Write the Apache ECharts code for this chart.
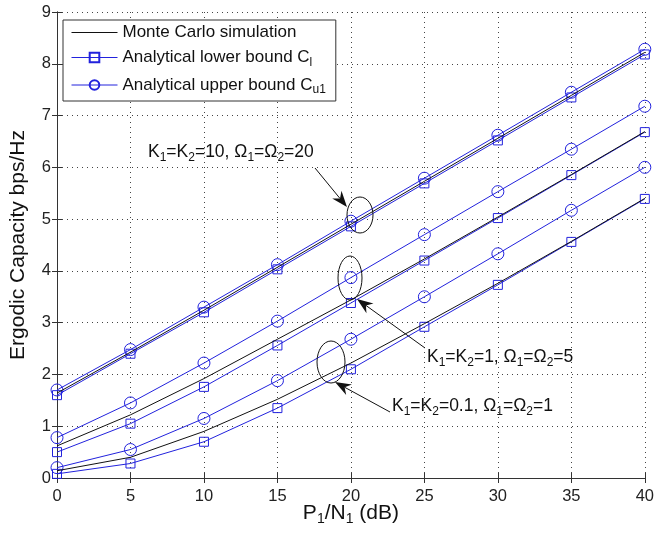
<!DOCTYPE html>
<html>
<head>
<meta charset="utf-8">
<script src="https://cdn.jsdelivr.net/npm/echarts@6/dist/echarts.min.js"></script>
<style>
  html, body { margin: 0; padding: 0; background: #fff; }
  #main { width: 657px; height: 536px; }
</style>
</head>
<body>
<div id="main"></div>
<script>
// x axis: P1/N1 in dB
var snr = [0, 5, 10, 15, 20, 25, 30, 35, 40];

// K1=K2=10, Omega1=Omega2=20
var mc1 = [1.64, 2.43, 3.24, 4.07, 4.90, 5.73, 6.56, 7.39, 8.22];
var low1 = [1.60, 2.40, 3.20, 4.03, 4.86, 5.69, 6.52, 7.35, 8.18];
var up1 = [1.70, 2.48, 3.30, 4.12, 4.96, 5.79, 6.62, 7.45, 8.28];

// K1=K2=1, Omega1=Omega2=5
var mc2 = [0.62, 1.22, 1.92, 2.68, 3.44, 4.23, 5.04, 5.86, 6.69];
var low2 = [0.50, 1.05, 1.76, 2.56, 3.38, 4.20, 5.02, 5.85, 6.68];
var up2 = [0.78, 1.45, 2.22, 3.03, 3.87, 4.70, 5.53, 6.35, 7.18];

// K1=K2=0.1, Omega1=Omega2=1
var mc3 = [0.14, 0.40, 0.90, 1.52, 2.22, 2.98, 3.76, 4.57, 5.40];
var low3 = [0.08, 0.28, 0.70, 1.35, 2.10, 2.92, 3.73, 4.56, 5.39];
var up3 = [0.20, 0.55, 1.15, 1.88, 2.68, 3.50, 4.33, 5.17, 6.00];

var blue = '#2222dd';
var font = 'Liberation Sans, Arial, Helvetica, sans-serif';

function pairs(ys) {
    return snr.map(function (x, i) { return [x, ys[i]]; });
}

function mcSeries(ys) {
    return {
        name: 'Monte Carlo simulation',
        type: 'line',
        data: pairs(ys),
        showSymbol: false,
        symbol: 'none',
        color: '#111',
        lineStyle: { color: '#111', width: 1 },
        silent: true,
        z: 3
    };
}

function boundSeries(name, ys, sym, size) {
    return {
        name: name,
        type: 'line',
        data: pairs(ys),
        symbol: sym,
        symbolSize: size,
        color: blue,
        lineStyle: { color: blue, width: 1 },
        itemStyle: { color: 'rgba(255,255,255,0)', borderColor: blue, borderWidth: 1 },
        silent: true,
        z: 2
    };
}

var lowName = 'Analytical lower bound C_l';
var upName = 'Analytical upper bound C_u1';

var txt = { fontSize: 17.5, fontFamily: font, color: '#111' };
var sub = { fontSize: 12, fontFamily: font, color: '#111', padding: [11, 0, 0, 0] };
var legTxt = { fontSize: 17, fontFamily: font, color: '#111' };
var legSub = { fontSize: 12, fontFamily: font, color: '#111', padding: [10, 0, 0, 0] };

function annoText(x, y, str) {
    return {
        type: 'text',
        left: x,
        top: y,
        z: 20,
        style: {
            text: str,
            font: '17.5px ' + font,
            fill: '#111',
            rich: { n: txt, s: sub }
        }
    };
}

function arrow(x1, y1, x2, y2) {
    var a = Math.atan2(y2 - y1, x2 - x1);
    var L = 16, W = 6, B = 11;
    var ca = Math.cos(a), sa = Math.sin(a);
    var bx = x2 - L * ca, by = y2 - L * sa;
    var nx = x2 - B * ca, ny = y2 - B * sa;
    return [
        { type: 'line', z: 20, shape: { x1: x1, y1: y1, x2: nx, y2: ny }, style: { stroke: '#111', lineWidth: 1 } },
        { type: 'polygon', z: 20, shape: { points: [[x2, y2], [bx - W * sa, by + W * ca], [nx, ny], [bx + W * sa, by - W * ca]] }, style: { fill: '#111' } }
    ];
}

function ellipse(cx, cy, rx, ry) {
    return { type: 'ellipse', z: 20, shape: { cx: cx, cy: cy, rx: rx, ry: ry }, style: { fill: 'none', stroke: '#111', lineWidth: 1 } };
}

var chart = echarts.init(document.getElementById('main'));

var graphics = [
    annoText(148, 143, '{n|K}{s|1}{n|=K}{s|2}{n|=10, Ω}{s|1}{n|=Ω}{s|2}{n|=20}'),
    annoText(427, 348, '{n|K}{s|1}{n|=K}{s|2}{n|=1, Ω}{s|1}{n|=Ω}{s|2}{n|=5}'),
    annoText(392, 397, '{n|K}{s|1}{n|=K}{s|2}{n|=0.1, Ω}{s|1}{n|=Ω}{s|2}{n|=1}'),
    ellipse(360, 215, 13, 18),
    ellipse(350, 278, 12, 22),
    ellipse(331, 362, 14, 21)
].concat(arrow(315, 168, 347, 207))
 .concat(arrow(425, 348, 357, 299))
 .concat(arrow(390, 412, 335, 382));

var option = {
    animation: false,
    backgroundColor: '#fff',
    grid: { left: 56, right: 11, top: 12, bottom: 58 },
    legend: {
        left: 63,
        top: 20,
        orient: 'vertical',
        data: [
            { name: 'Monte Carlo simulation', itemStyle: { opacity: 0 } },
            lowName,
            upName
        ],
        backgroundColor: '#fff',
        borderColor: '#333',
        borderWidth: 1,
        borderRadius: 0,
        padding: [4, 10, 5, 8],
        itemGap: 8,
        itemWidth: 46,
        itemHeight: 12,
        lineStyle: { width: 1 },
        textStyle: {
            fontSize: 17,
            fontFamily: font,
            color: '#111',
            rich: { n: legTxt, s: legSub }
        },
        formatter: function (name) {
            if (name === lowName) return '{n|Analytical lower bound C}{s|l}';
            if (name === upName) return '{n|Analytical upper bound C}{s|u1}';
            return '{n|' + name + '}';
        },
        selectedMode: false
    },
    xAxis: [{
        type: 'value',
        min: 0,
        max: 40,
        interval: 5,
        name: '{n|P}{s|1}{n|/N}{s|1}{n| (dB)}',
        nameLocation: 'middle',
        nameGap: 22,
        nameMoveOverlap: false,
        nameTextStyle: {
            fontSize: 21, fontFamily: font, color: '#111',
            rich: {
                n: { fontSize: 21, fontFamily: font, color: '#111' },
                s: { fontSize: 14, fontFamily: font, color: '#111', padding: [12, 0, 0, 0] }
            }
        },
        axisLine: { lineStyle: { color: '#333' } },
        axisTick: { inside: true, length: 5, lineStyle: { color: '#333' } },
        axisLabel: { fontSize: 16.5, fontFamily: font, color: '#222', margin: 10 },
        splitLine: { show: true, lineStyle: { color: '#444', type: [1, 4], width: 1 } }
    }, {
        type: 'value',
        position: 'top',
        min: 0,
        max: 40,
        interval: 5,
        axisLine: { show: true, lineStyle: { color: '#333' } },
        axisTick: { show: true, inside: true, length: 5, lineStyle: { color: '#333' } },
        axisLabel: { show: false },
        splitLine: { show: false }
    }],
    yAxis: [{
        type: 'value',
        min: 0,
        max: 9,
        interval: 1,
        name: 'Ergodic Capacity bps/Hz',
        nameLocation: 'middle',
        nameGap: 28,
        nameMoveOverlap: false,
        nameTextStyle: { fontSize: 21, fontFamily: font, color: '#111' },
        axisLine: { show: true, lineStyle: { color: '#333' } },
        axisTick: { show: true, inside: true, length: 5, lineStyle: { color: '#333' } },
        axisLabel: { fontSize: 16.5, fontFamily: font, color: '#222', margin: 6 },
        splitLine: { show: true, lineStyle: { color: '#444', type: [1, 4], width: 1 } }
    }, {
        type: 'value',
        position: 'right',
        min: 0,
        max: 9,
        interval: 1,
        axisLine: { show: true, lineStyle: { color: '#333' } },
        axisTick: { show: true, inside: true, length: 5, lineStyle: { color: '#333' } },
        axisLabel: { show: false },
        splitLine: { show: false }
    }],
    series: [
        mcSeries(mc1), mcSeries(mc2), mcSeries(mc3),
        boundSeries(lowName, low1, 'rect', 9),
        boundSeries(lowName, low2, 'rect', 9),
        boundSeries(lowName, low3, 'rect', 9),
        boundSeries(upName, up1, 'circle', 12),
        boundSeries(upName, up2, 'circle', 12),
        boundSeries(upName, up3, 'circle', 12)
    ],
    graphic: graphics
};

chart.setOption(option);
</script>
</body>
</html>
